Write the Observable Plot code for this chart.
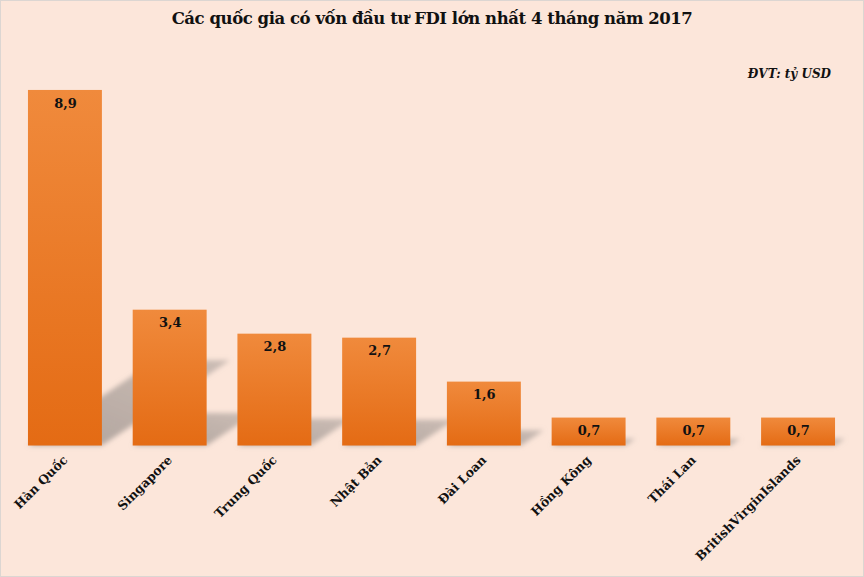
<!DOCTYPE html>
<html>
<head>
<meta charset="utf-8">
<script src="https://cdn.jsdelivr.net/npm/d3@7"></script>
<script src="https://cdn.jsdelivr.net/npm/@observablehq/plot@0.6"></script>
<style>
  html, body { margin: 0; padding: 0; background: #fce6da; }
  #frame {
    position: relative; width: 862px; height: 575px;
    background: #fce6da; border: 1px solid #dcd6d2; overflow: hidden;
    font-family: "DejaVu Serif", serif;
  }
  #title {
    position: absolute; left: 0; top: 8px; width: 862px; text-align: center;
    font-weight: bold; font-size: 16.5px; color: #111; letter-spacing: -0.45px;
  }
  #unit {
    position: absolute; right: 32px; top: 66px;
    font-weight: bold; font-style: italic; font-size: 12px; color: #111;
  }
  #chart { position: absolute; left: -1px; top: 43px; }
</style>
</head>
<body>
<div id="frame">
  <div id="title">Các quốc gia có vốn đầu tư FDI lớn nhất 4 tháng năm 2017</div>
  <div id="unit">ĐVT: tỷ USD</div>
  <div id="chart"></div>
</div>
<script>
const countries = ["Hàn Quốc", "Singapore", "Trung Quốc", "Nhật Bản", "Đài Loan", "Hồng Kông", "Thái Lan", "BritishVirginIslands"];
const values = [8.9, 3.4, 2.8, 2.7, 1.6, 0.7, 0.7, 0.7];

const data = countries.map((c, i) => ({country: c, value: values[i], label: String(values[i]).replace(".", ",")}));

// perspective shadow cast up-right behind each bar (drawn through Plot's scales)
function shadows(index, scales) {
  const g = d3.create("svg:g").attr("filter", "url(#shadowBlur)");
  const bw = scales.x.bandwidth();
  for (const d of data) {
    const x0 = scales.x(d.country), x1 = x0 + bw;
    const yb = scales.y(0), h = yb - scales.y(d.value);
    const dx = 0.36 * h, dy = 0.24 * h;
    g.append("polygon")
      .attr("points", [[x0, yb], [x1, yb], [x1 + dx, yb - dy], [x0 + dx, yb - dy]].map(p => p.join(",")).join(" "))
      .attr("fill", "url(#shadowGrad)");
  }
  return g.node();
}

const plot = Plot.plot({
  width: 864,
  height: 533,
  marginLeft: 17.5,
  marginRight: 17.5,
  marginTop: 42,
  marginBottom: 131,
  style: {background: "transparent", fontFamily: "DejaVu Serif", fontSize: "12.5px", fontWeight: "bold", color: "#111"},
  x: {domain: countries, paddingInner: 0.294, paddingOuter: 0.1, round: false, label: null, tickRotate: -45, tickSize: 0, tickPadding: 12},
  y: {domain: [0, 9], axis: null},
  marks: [
    shadows,
    Plot.barY(data, {x: "country", y: "value", fill: "url(#barGrad)"}),
    Plot.text(data, {x: "country", y: "value", text: "label", dy: 13, fontSize: 13, fontWeight: "bold", fill: "#111"})
  ]
});

const svg = d3.select(plot);
const defs = svg.insert("defs", ":first-child");
const g = defs.append("linearGradient").attr("id", "barGrad").attr("x1", 0).attr("y1", 0).attr("x2", 0).attr("y2", 1);
g.append("stop").attr("offset", "0%").attr("stop-color", "#f08a3c");
g.append("stop").attr("offset", "100%").attr("stop-color", "#e46b14");
const sg = defs.append("linearGradient").attr("id", "shadowGrad").attr("x1", 0).attr("y1", 1).attr("x2", 1).attr("y2", 0);
sg.append("stop").attr("offset", "0%").attr("stop-color", "#9c928d").attr("stop-opacity", 0.8);
sg.append("stop").attr("offset", "100%").attr("stop-color", "#aaa09b").attr("stop-opacity", 0.6);
defs.append("filter").attr("id", "shadowBlur").attr("x", "-20%").attr("y", "-20%").attr("width", "140%").attr("height", "140%")
  .append("feGaussianBlur").attr("stdDeviation", 2.5);

document.getElementById("chart").appendChild(plot);
</script>
</body>
</html>
